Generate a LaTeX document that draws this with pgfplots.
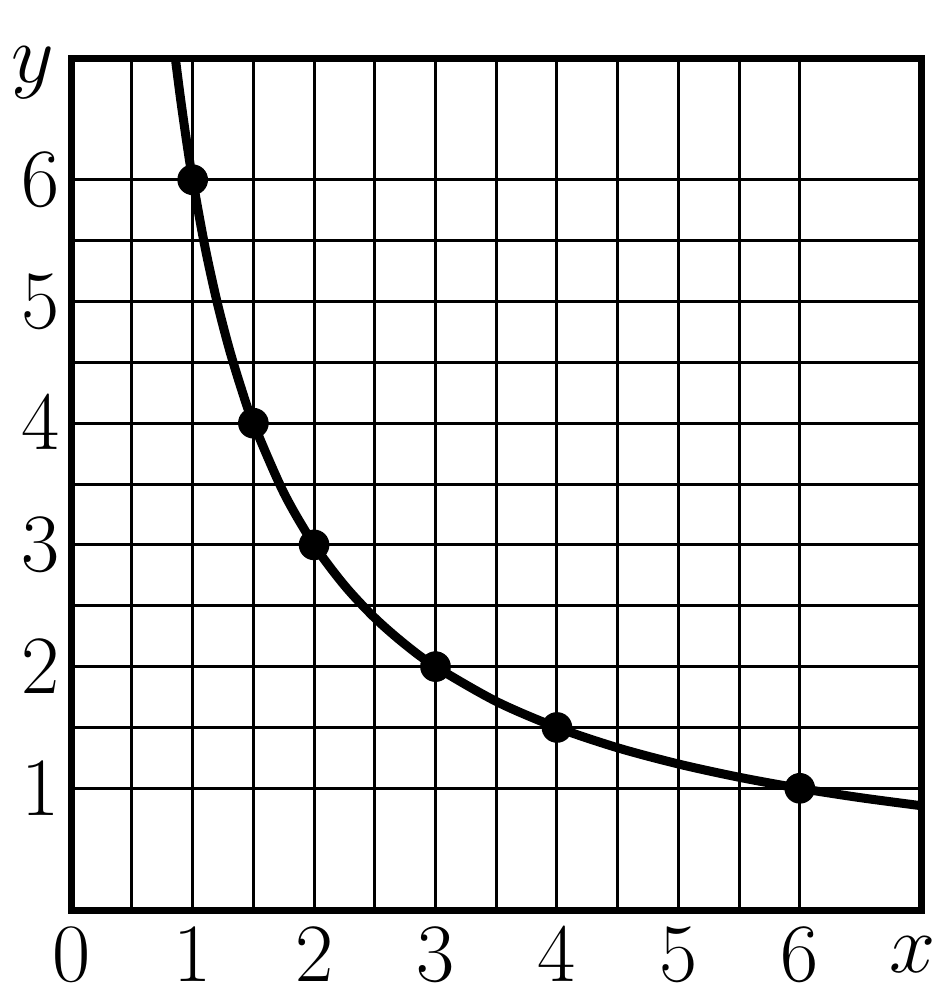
\documentclass[border=0pt]{standalone}
\usepackage{pgfplots}
\pgfplotsset{compat=1.18}
\begin{document}
\begin{tikzpicture}
\begin{axis}[
  width=255pt, height=255.6pt, scale only axis,
  xmin=0, xmax=7, ymin=0, ymax=7,
  clip=false,
  xtick={0,1,2,3,4,5,6}, ytick={1,2,3,4,5,6},
  minor x tick num=1, minor y tick num=1,
  grid=both,
  major grid style={black, line width=0.9pt},
  minor grid style={black, line width=0.9pt},
  major tick length=0pt, minor tick length=0pt,
  axis line style={line width=2.1pt},
  ticklabel style={font=\fontsize{28}{32}\selectfont},
  xticklabel style={yshift=-2pt},
  yticklabel style={xshift=0pt},
]
\addplot[black, line width=2.7pt, smooth, tension=0.5] coordinates {
(0.857,7.0) (0.9,6.667) (0.95,6.316) (1,6) (1.1,5.455) (1.2,5) (1.3,4.615)
(1.4,4.286) (1.5,4) (1.75,3.429) (2,3) (2.25,2.667) (2.5,2.4) (2.75,2.182)
(3,2) (3.5,1.714) (4,1.5) (4.5,1.333) (5,1.2) (5.5,1.091) (6,1) (6.5,0.923) (7,0.857)
};
\addplot[only marks, mark=*, mark size=4.4pt, black] coordinates {
(1,6) (1.5,4) (2,3) (3,2) (4,1.5) (6,1)
};
\node[font=\fontsize{28}{32}\selectfont, anchor=base] at (axis cs:-0.32,6.80) {$y$};
\node[font=\fontsize{28}{32}\selectfont, anchor=base] at (axis cs:6.93,-0.51) {$x$};
\path (axis cs:-0.576,-0.805) rectangle (axis cs:7.132,7.477);
\end{axis}
\end{tikzpicture}
\end{document}
